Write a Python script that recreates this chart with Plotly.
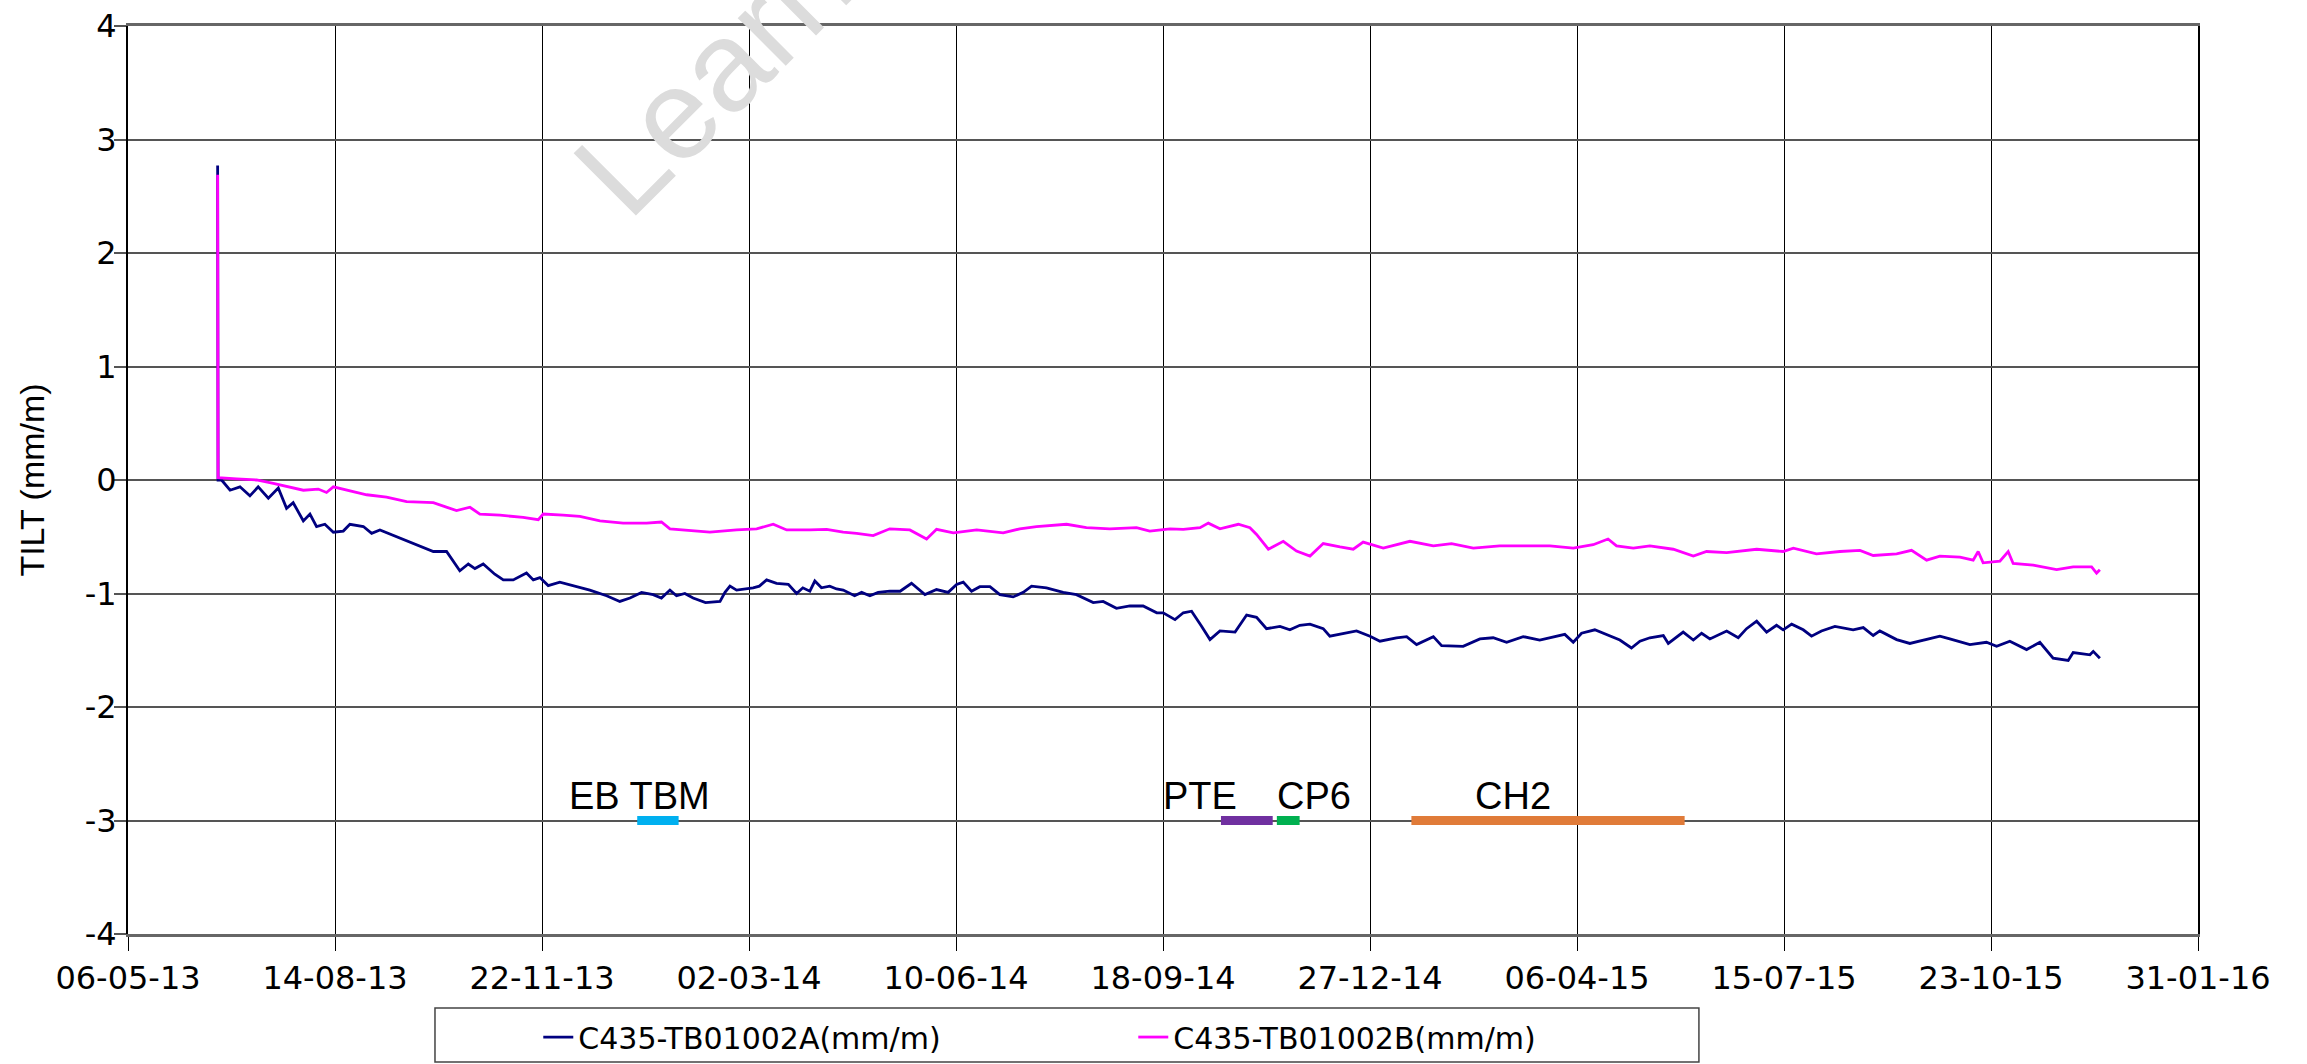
import pandas as pd
import plotly.graph_objects as go

# ---------------- data ----------------
START = "2013-05-06"          # day 0 of the offsets below

days_a = [43.3, 43.5, 45.2, 49.3, 54.1, 58.9, 62.9, 67.8, 72.6, 76.6, 79.8, 84.7, 87.9, 91.1, 95.1,
          99.2, 104, 107.2, 113.7, 117.7, 121.7, 147.5, 153.9, 160.3, 164.4, 167.6, 171.6, 177.2,
          181.3, 186.1, 192.5, 195.8, 199, 203, 208.6, 216.7, 223.1, 231.2, 237.6, 242.5, 248.1,
          253.7, 257.7, 261.8, 265, 269, 273, 279, 286, 288.4, 290.8, 294, 302, 305, 308.5, 313.3,
          319, 323, 326, 329.4, 331.8, 335, 339, 342.3, 345.5, 351, 354.4, 358.4, 362.4, 368, 373,
          378.5, 385, 390.6, 396.2, 400.3, 403.5, 407.5, 411.5, 416.4, 421.2, 427.6, 432.5, 436.5,
          443.7, 451.8, 458.2, 466.3, 471.1, 477.5, 484, 490.4, 497, 500.1, 505.8, 509.8, 513.8,
          518.7, 522.7, 527.5, 534.8, 540.4, 545.2, 550, 556.5, 561.3, 566.1, 571, 577.4, 580.6,
          587, 593.5, 600, 604.8, 612.8, 617.7, 622.5, 630.6, 634.6, 645, 653.1, 659.5, 666, 674,
          682, 694.1, 698.2, 702.2, 708.6, 720.7, 726.3, 730.4, 735.2, 741.7, 744.1, 751.3, 756.2,
          760.2, 764.2, 772.3, 777.9, 781.9, 786.8, 791.6, 796.4, 799.6, 803.7, 809.3, 813.3,
          818.1, 824.6, 833.4, 838.3, 843.1, 846.3, 854.4, 860.8, 867.3, 875.3, 880.1, 889.8,
          897.8, 902.7, 909.1, 917.2, 923.6, 930, 937.3, 939.7, 947.8, 949.4, 952.6]
tilt_a = [2.77, 0.00, 0.00, -0.09, -0.06, -0.14, -0.06, -0.16, -0.07, -0.25, -0.20, -0.36, -0.30,
          -0.41, -0.39, -0.46, -0.45, -0.39, -0.41, -0.47, -0.44, -0.63, -0.63, -0.80, -0.74, -0.78,
          -0.74, -0.83, -0.88, -0.88, -0.82, -0.88, -0.86, -0.93, -0.90, -0.94, -0.97, -1.02, -1.07,
          -1.04, -0.99, -1.01, -1.04, -0.97, -1.02, -1.00, -1.04, -1.08, -1.07, -0.99, -0.935,
          -0.97, -0.95, -0.935, -0.88, -0.91, -0.92, -1.00, -0.95, -0.98, -0.89, -0.95, -0.935,
          -0.96, -0.97, -1.02, -0.99, -1.02, -0.99, -0.98, -0.98, -0.91, -1.01, -0.965, -0.99,
          -0.92, -0.90, -0.98, -0.94, -0.94, -1.01, -1.03, -0.99, -0.935, -0.95, -0.99, -1.01,
          -1.08, -1.07, -1.13, -1.11, -1.11, -1.17, -1.17, -1.23, -1.17, -1.156, -1.29, -1.406,
          -1.33, -1.34, -1.19, -1.21, -1.31, -1.29, -1.32, -1.28, -1.27, -1.31, -1.376, -1.35,
          -1.33, -1.376, -1.42, -1.39, -1.38, -1.45, -1.38, -1.46, -1.465, -1.40, -1.39, -1.43,
          -1.38, -1.41, -1.36, -1.43, -1.35, -1.32, -1.41, -1.48, -1.42, -1.39, -1.37, -1.44,
          -1.34, -1.41, -1.35, -1.40, -1.33, -1.39, -1.31, -1.244, -1.34, -1.28, -1.32, -1.27,
          -1.32, -1.376, -1.33, -1.29, -1.32, -1.30, -1.37, -1.33, -1.406, -1.44, -1.41, -1.376,
          -1.40, -1.45, -1.43, -1.465, -1.42, -1.494, -1.43, -1.57, -1.59, -1.52, -1.54, -1.51,
          -1.57]

days_b = [43.3, 43.5, 52.5, 62.1, 70.2, 78.2, 84.7, 91.9, 95.9, 99.2, 105.6, 115.3, 124.9, 134.6,
          147.5, 158.7, 165.2, 170, 179.7, 190.9, 198.2, 200.6, 210.2, 218.3, 228, 239.2, 250.5,
          257.7, 261.8, 269.9, 281.1, 294, 303.7, 311.7, 318.2, 329.4, 337.5, 345.5, 352, 360, 368,
          377.7, 385.8, 390.6, 398.7, 410, 422.8, 430.8, 438.9, 453.4, 463, 474.3, 487.2, 493.6,
          503.4, 509.8, 517.9, 521.9, 527.5, 536.4, 542, 545.2, 550.9, 558.1, 564.5, 571, 577.4,
          585.5, 591.9, 596.7, 606.4, 619.3, 630.6, 639.4, 649.9, 662.7, 675.6, 686.9, 698.2,
          707.8, 715, 719.1, 727.2, 735.2, 746.5, 756.2, 762.6, 772.3, 786.8, 799.6, 804.5, 815.7,
          827, 836.7, 843.1, 854.4, 861.6, 868.9, 875.3, 885, 891.4, 893.8, 896.2, 904.3, 908.3,
          910.7, 920.4, 931.7, 939.7, 948.6, 951, 952.6]
tilt_b = [2.69, 0.02, 0.01, 0.00, -0.03, -0.06, -0.09, -0.08, -0.11, -0.06, -0.09, -0.13, -0.15,
          -0.19, -0.20, -0.27, -0.24, -0.30, -0.31, -0.33, -0.35, -0.30, -0.31, -0.32, -0.36, -0.38,
          -0.38, -0.37, -0.43, -0.44, -0.46, -0.44, -0.43, -0.39, -0.44, -0.44, -0.435, -0.46,
          -0.47, -0.49, -0.43, -0.44, -0.52, -0.435, -0.465, -0.44, -0.465, -0.43, -0.41, -0.39,
          -0.42, -0.43, -0.42, -0.45, -0.43, -0.435, -0.42, -0.38, -0.43, -0.39, -0.42, -0.48,
          -0.61, -0.54, -0.626, -0.67, -0.56, -0.59, -0.61, -0.547, -0.60, -0.54, -0.58, -0.56,
          -0.60, -0.58, -0.58, -0.58, -0.60, -0.57, -0.52, -0.58, -0.60, -0.58, -0.61, -0.67,
          -0.63, -0.64, -0.61, -0.63, -0.60, -0.65, -0.63, -0.62, -0.665, -0.65, -0.62, -0.706,
          -0.67, -0.68, -0.706, -0.63, -0.73, -0.715, -0.63, -0.735, -0.75, -0.79, -0.765, -0.765,
          -0.82, -0.79]

series_names = ["C435-TB01002A(mm/m)", "C435-TB01002B(mm/m)"]
series_colors = ["#000080", "#FF00FF"]

# construction activity periods (start, end) drawn at TILT = -3
activity_labels = ["EB TBM", "PTE", "CP6", "CH2"]
activity_start = ["2014-01-07", "2014-10-16", "2014-11-12", "2015-01-16"]
activity_end = ["2014-01-27", "2014-11-10", "2014-11-23", "2015-05-28"]
activity_label_x = ["2014-01-08", "2014-10-06", "2014-11-30", "2015-03-06"]
activity_level = -3
activity_colors = ["#00B0F0", "#7030A0", "#00B050", "#E07B39"]

x_tick_dates = ["2013-05-06", "2013-08-14", "2013-11-22", "2014-03-02", "2014-06-10",
                "2014-09-18", "2014-12-27", "2015-04-06", "2015-07-15", "2015-10-23",
                "2016-01-31"]
y_ticks = [-4, -3, -2, -1, 0, 1, 2, 3, 4]
y_title = "TILT (mm/m)"
watermark = "Learn"

# ---------------- figure ----------------
t0 = pd.Timestamp(START)
def to_dates(days):
    return t0 + pd.to_timedelta(days, unit="D")

TICK_FONT = dict(family="Verdana, DejaVu Sans, sans-serif", size=32, color="black")
ARIAL = "Arial, Liberation Sans, sans-serif"

fig = go.Figure()
for days, vals, name, col in [(days_a, tilt_a, series_names[0], series_colors[0]),
                              (days_b, tilt_b, series_names[1], series_colors[1])]:
    fig.add_trace(go.Scatter(x=to_dates(days), y=vals, mode="lines", name=name,
                             line=dict(color=col, width=2.8)))

for s, e, c in zip(activity_start, activity_end, activity_colors):
    fig.add_trace(go.Scatter(x=[s, e], y=[activity_level, activity_level], mode="lines",
                             line=dict(color=c, width=9), showlegend=False, hoverinfo="skip"))

for lab, lx in zip(activity_labels, activity_label_x):
    fig.add_annotation(x=lx, y=activity_level, text=lab, showarrow=False,
                       xanchor="center", yanchor="bottom", yshift=2,
                       font=dict(family=ARIAL, size=38, color="black"))

fig.add_annotation(xref="paper", yref="paper", x=0.2826, y=0.9455, text=watermark,
                   textangle=-45, showarrow=False, xanchor="center", yanchor="middle",
                   font=dict(family=ARIAL, size=128, color="#DCDCDC"))

# legend frame
fig.add_shape(type="rect", xref="paper", yref="paper", x0=0.1483, x1=0.7589,
              y0=-0.141, y1=-0.0815, line=dict(color="#444", width=1.5), fillcolor="rgba(0,0,0,0)")

fig.update_layout(
    width=2307, height=1064,
    margin=dict(l=128, r=109, t=26, b=130, autoexpand=False),
    paper_bgcolor="white", plot_bgcolor="white",
    showlegend=True,
    legend=dict(orientation="h", x=0.1982, xanchor="left", y=-0.1135, yanchor="middle",
                font=dict(family="Verdana, DejaVu Sans, sans-serif", size=30, color="black"),
                bgcolor="rgba(0,0,0,0)", borderwidth=0, entrywidth=550, entrywidthmode="pixels"),
    xaxis=dict(type="date", range=[x_tick_dates[0], x_tick_dates[-1]],
               tickvals=x_tick_dates, tickformat="%d-%m-%y", tickfont=TICK_FONT,
               showgrid=True, gridcolor="black", gridwidth=1.3,
               showline=True, linecolor="#666", linewidth=3, mirror=True,
               ticks="outside", ticklen=14, tickwidth=1.3, tickcolor="black",
               zeroline=False),
    yaxis=dict(range=[-4, 4], tickvals=y_ticks, ticktext=[str(v) for v in y_ticks],
               tickfont=TICK_FONT, ticklabelstandoff=-9,
               showgrid=True, gridcolor="#555", gridwidth=2,
               showline=True, linecolor="black", linewidth=2, mirror=True,
               ticks="outside", ticklen=12, tickwidth=1.5, tickcolor="#555",
               zeroline=False,
               title=dict(text=y_title, font=dict(family=ARIAL, size=34, color="black"),
                          standoff=30)),
)

fig.write_html("out.html", config={"displayModeBar": False},
               post_script="document.body.style.margin='0';")
